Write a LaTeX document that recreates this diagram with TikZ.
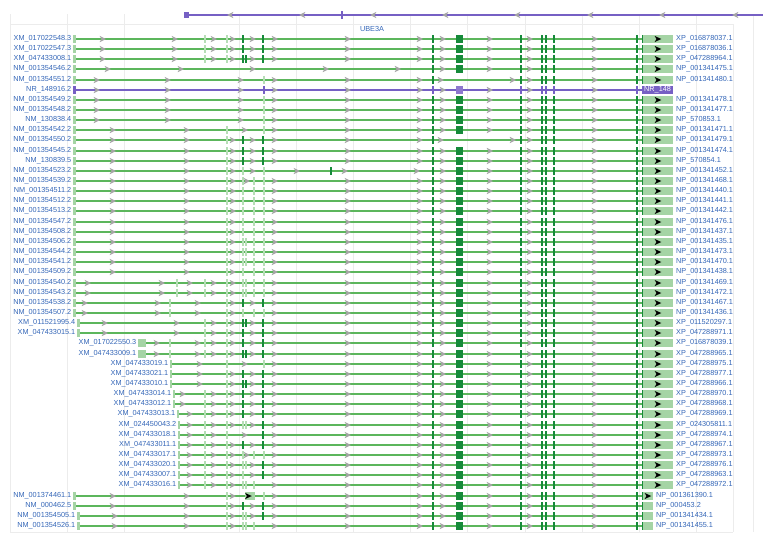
\documentclass[tikz,border=0pt]{standalone}
\usepackage{fontspec}
\setmainfont{Liberation Sans}
\definecolor{gl}{RGB}{92,182,92}
\definecolor{gd}{RGB}{22,138,58}
\definecolor{gb}{RGB}{165,212,165}
\definecolor{gt}{RGB}{182,222,182}
\definecolor{ag}{RGB}{165,165,165}
\definecolor{pu}{RGB}{118,96,196}
\definecolor{pul}{RGB}{142,120,206}
\definecolor{lb}{RGB}{52,102,184}
\definecolor{gridc}{RGB}{236,236,236}
\tikzset{
 intron/.style={draw=gl,line width=1.8pt},
 ltick/.style={draw=gt,line width=1.1pt},
 dtick/.style={draw=gd,line width=1.2pt},
 lab/.style={font=\fontsize{7.3}{8}\selectfont,text=lb,inner sep=0pt,anchor=east},
 rlab/.style={font=\fontsize{7.3}{8}\selectfont,text=lb,inner sep=0pt,anchor=west},
 gridline/.style={draw=gridc,line width=0.6pt},
}
\newcommand\arr[2]{\fill[ag] ({#1-3.4},{#2-3.2}) -- ({#1+3},{#2}) -- ({#1-3.4},{#2+3.2}) -- ({#1-1.6},{#2}) -- cycle;}
\newcommand\larr[2]{\fill[ag] ({#1+3.4},{#2-3.2}) -- ({#1-3},{#2}) -- ({#1+3.4},{#2+3.2}) -- ({#1+1.6},{#2}) -- cycle;}
\newcommand\chev[2]{\fill[black] ({#1-3.3},{#2-3}) -- ({#1+3.3},{#2}) -- ({#1-3.3},{#2+3}) -- ({#1-1.6},{#2}) -- cycle;}
\newcommand\sety[1]{\pgfmathsetmacro\yy{round(39+(#1-1)*10.146)}}
% left part of a transcript row
\newcommand\trow[7]{%
 \sety{#1}%
 \draw[intron] (#2,\yy) -- (642,\yy);
 \fill[gb] (#2,\yy-4) rectangle (#2+#3,\yy+4);
 \node[lab] (l#1) at (#2-1.5,\yy) {#4};
 \foreach \t in {#6}{\draw[ltick] (\t,\yy-3.6) -- (\t,\yy+3.6);}
 \foreach \t in {#7}{\draw[dtick] (\t,\yy-3.6) -- (\t,\yy+3.6);}
 \foreach \a in {#5}{\arr{\a}{\yy}}
}
% standard right part
\newcommand\rstd[3]{%
 \sety{#1}%
 \foreach \t in {433,521,542,546,554,637}{\draw[dtick] (\t,\yy-3.6) -- (\t,\yy+3.6);}
 \fill[gd] (456,\yy-4) rectangle (463,\yy+4);
 \foreach \a in {#2,443,490,530,595}{\arr{\a}{\yy}}
 \fill[gb] (642,\yy-4) rectangle (673,\yy+4);
 \draw[dtick] (642.6,\yy-4) -- (642.6,\yy+4);
 \chev{658}{\yy}
 \node[rlab] (r#1) at (676,\yy) {#3};
}
% right part without the large exon
\newcommand\rns[2]{%
 \sety{#1}%
 \foreach \t in {433,521,542,546,554,637}{\draw[dtick] (\t,\yy-3.6) -- (\t,\yy+3.6);}
 \foreach \a in {420,441,513,530,595}{\arr{\a}{\yy}}
 \fill[gb] (642,\yy-4) rectangle (673,\yy+4);
 \draw[dtick] (642.6,\yy-4) -- (642.6,\yy+4);
 \chev{658}{\yy}
 \node[rlab] (r#1) at (676,\yy) {#2};
}
% right part with a short end box
\newcommand\rbot[3]{%
 \sety{#1}%
 \foreach \t in {433,521,542,546,554,637}{\draw[dtick] (\t,\yy-3.6) -- (\t,\yy+3.6);}
 \fill[gd] (456,\yy-4) rectangle (463,\yy+4);
 \foreach \a in {420,443,490,530,595}{\arr{\a}{\yy}}
 \fill[gb] (642,\yy-4) rectangle (653,\yy+4);
 \draw[dtick] (642.6,\yy-4) -- (642.6,\yy+4);
 \ifnum#3=1 \chev{648}{\yy}\fi
 \node[rlab] (r#1) at (656,\yy) {#2};
}
\begin{document}
\begin{tikzpicture}[x=1pt,y=-1pt]
\useasboundingbox (0,0) rectangle (774,541);
\fill[white] (0,0) rectangle (774,541);
% faint grid
\foreach \x in {10,67.2,124.4,238.8,296,353.2,410.4,467.6,524.8,582,639.2,696.4,753.6}{\draw[gridline] (\x,14) -- (\x,532);}
\draw[gridline] (10,24) -- (733,24);
\draw[gridline] (10,532) -- (733,532);
\draw[gridline] (733,24) -- (733,532);
% gene
\draw[pu,line width=1.6pt] (185,15) -- (763,15);
\fill[pu] (184,12.3) rectangle (188.6,17.7);
\draw[pu,line width=1.2pt] (342,11) -- (342,19);
\foreach \a in {230,302,373,445,517,590,662,735}{\larr{\a}{15}}
\node[font=\fontsize{7.3}{8}\selectfont,text=lb,inner sep=0pt] (gene) at (372,29) {UBE3A};
% rows
\trow{1}{73}{3}{XM\_017022548.3}{103,175,214,233,253,275,348}{205,227}{243,263}
\rstd{1}{420}{XP\_016878037.1}
\trow{2}{73}{3}{XM\_017022547.3}{103,175,214,233,253,275,348}{205,227}{243,263}
\rstd{2}{420}{XP\_016878036.1}
\trow{3}{73}{3}{XM\_047433008.1}{103,175,214,233,253,275,348}{205,227}{243,246,263}
\rstd{3}{420}{XP\_047288964.1}
\trow{4}{73}{3}{NM\_001354546.2}{108,181,253,326}{637}{637}
\rstd{4}{398}{NP\_001341475.1}
\trow{5}{73}{3}{NM\_001354551.2}{97,168,241,275,348}{264}{637}
\rns{5}{NP\_001341480.1}
% purple non-coding row
\sety{6}
\draw[pu,line width=1.8pt] (73,\yy) -- (642,\yy);
\fill[pu] (73,\yy-4) rectangle (76,\yy+4);
\node[lab] (l6) at (71.5,\yy) {NR\_148916.2};
\foreach \t in {264,433,521,542,546,554,637}{\draw[pu,line width=1.2pt] (\t,\yy-3.6) -- (\t,\yy+3.6);}
\fill[pul] (456,\yy-4) rectangle (463,\yy+4);
\foreach \a in {97,168,241,275,348,420,443,490,530,595}{\arr{\a}{\yy}}
\fill[pu] (642,\yy-4) rectangle (673,\yy+4);
\node[font=\fontsize{7.3}{8}\selectfont,text=white,inner sep=0pt,anchor=west] (r6) at (644,\yy) {NR\_148};
%
\trow{7}{73}{3}{NM\_001354549.2}{97,168,241,275,348}{264}{637}
\rstd{7}{420}{NP\_001341478.1}
\trow{8}{73}{3}{NM\_001354548.2}{97,168,241,275,348}{264}{637}
\rstd{8}{420}{NP\_001341477.1}
\trow{9}{73}{3}{NM\_130838.4}{97,168,241,275,348}{264}{637}
\rstd{9}{420}{NP\_570853.1}
\trow{10}{73}{3}{NM\_001354542.2}{113,187,245,275,348}{227,264}{637}
\rstd{10}{420}{NP\_001341471.1}
\trow{11}{73}{3}{NM\_001354550.2}{113,187,233,253,275,348}{227}{243,263}
\rns{11}{NP\_001341479.1}
\trow{12}{73}{3}{NM\_001354545.2}{113,187,233,253,275,348}{227}{243,263}
\rstd{12}{420}{NP\_001341474.1}
\trow{13}{73}{3}{NM\_130839.5}{113,187,233,253,275,348}{227}{243,263}
\rstd{13}{420}{NP\_570854.1}
\trow{14}{73}{3}{NM\_001354523.2}{113,187,233,253,297,345}{227,243,264}{331}
\rstd{14}{417}{NP\_001341452.1}
\trow{15}{73}{3}{NM\_001354539.2}{113,187,233,247,275,348}{227,243,254,264}{637}
\rstd{15}{420}{NP\_001341468.1}
\trow{16}{73}{3}{NM\_001354511.2}{113,187,233,275,348}{227,243,254,264}{637}
\rstd{16}{420}{NP\_001341440.1}
\trow{17}{73}{3}{NM\_001354512.2}{113,187,233,275,348}{227,243,254,264}{637}
\rstd{17}{420}{NP\_001341441.1}
\trow{18}{73}{3}{NM\_001354513.2}{113,187,233,275,348}{227,243,254,264}{637}
\rstd{18}{420}{NP\_001341442.1}
\trow{19}{73}{3}{NM\_001354547.2}{113,187,233,275,348}{227,243,254,264}{637}
\rstd{19}{420}{NP\_001341476.1}
\trow{20}{73}{3}{NM\_001354508.2}{113,187,233,275,348}{227,243,254,264}{637}
\rstd{20}{420}{NP\_001341437.1}
\trow{21}{73}{3}{NM\_001354506.2}{113,187,233,275,348}{227,243,246,254,264}{637}
\rstd{21}{420}{NP\_001341435.1}
\trow{22}{73}{3}{NM\_001354544.2}{113,187,233,275,348}{227,243,246,254,264}{637}
\rstd{22}{420}{NP\_001341473.1}
\trow{23}{73}{3}{NM\_001354541.2}{113,187,233,275,348}{227,243,246,254,264}{637}
\rstd{23}{420}{NP\_001341470.1}
\trow{24}{73}{3}{NM\_001354509.2}{113,187,233,275,348}{227,243,254,264}{637}
\rstd{24}{420}{NP\_001341438.1}
\trow{25}{73}{3}{NM\_001354540.2}{88,162,190,214,233,275,348}{177,205,227,243,246,254,264}{637}
\rstd{25}{420}{NP\_001341469.1}
\trow{26}{73}{3}{NM\_001354543.2}{88,162,190,214,233,275,348}{177,205,227,243,246,254,264}{637}
\rstd{26}{420}{NP\_001341472.1}
\trow{27}{73}{3}{NM\_001354538.2}{85,158,198,233,253,275,348}{170,227}{243,263}
\rstd{27}{420}{NP\_001341467.1}
\trow{28}{73}{3}{NM\_001354507.2}{85,158,198,233,275,348}{170,227,243,254,264}{637}
\rstd{28}{420}{NP\_001341436.1}
\trow{29}{77}{3}{XM\_011521995.4}{105,177,214,233,253,275,348}{205,227}{243,246,263}
\rstd{29}{420}{XP\_011520297.1}
\trow{30}{77}{3}{XM\_047433015.1}{105,177,214,233,253,275,348}{205,227}{243,263}
\rstd{30}{420}{XP\_047288971.1}
\trow{31}{138}{8}{XM\_017022550.3}{157,198,214,233,253,275,348}{170,205,227}{243,263}
\rstd{31}{420}{XP\_016878039.1}
\trow{32}{138}{8}{XM\_047433009.1}{157,198,214,233,253,275,348}{170,205,227}{243,246,263}
\rstd{32}{420}{XP\_047288965.1}
\trow{33}{170}{1.5}{XM\_047433019.1}{200,245,275,348}{227,264}{637}
\rstd{33}{420}{XP\_047288975.1}
\trow{34}{170}{1.5}{XM\_047433021.1}{200,233,253,275,348}{227}{243,263}
\rstd{34}{420}{XP\_047288977.1}
\trow{35}{170}{1.5}{XM\_047433010.1}{200,233,253,275,348}{227}{243,246,263}
\rstd{35}{420}{XP\_047288966.1}
\trow{36}{173}{1.5}{XM\_047433014.1}{183,214,233,253,275,348}{205,227}{243,263}
\rstd{36}{420}{XP\_047288970.1}
\trow{37}{173}{1.5}{XM\_047433012.1}{183,214,233,253,275,348}{205,227}{243,263}
\rstd{37}{420}{XP\_047288968.1}
\trow{38}{177}{1.5}{XM\_047433013.1}{190,214,233,253,275,348}{205,227}{243,263}
\rstd{38}{420}{XP\_047288969.1}
\trow{39}{178}{1.5}{XM\_024450043.2}{190,214,233,253,275,348}{205,227,243,246}{263}
\rstd{39}{420}{XP\_024305811.1}
\trow{40}{178}{1.5}{XM\_047433018.1}{190,214,245,275,348}{205,227}{263}
\rstd{40}{420}{XP\_047288974.1}
\trow{41}{178}{1.5}{XM\_047433011.1}{190,214,233,253,275,348}{205,227}{243,263}
\rstd{41}{420}{XP\_047288967.1}
\trow{42}{178}{1.5}{XM\_047433017.1}{190,214,233,247,275,348}{205,227,243,254,264}{637}
\rstd{42}{420}{XP\_047288973.1}
\trow{43}{178}{1.5}{XM\_047433020.1}{190,214,233,253,275,348}{205,227,243,246}{263}
\rstd{43}{420}{XP\_047288976.1}
\trow{44}{178}{1.5}{XM\_047433007.1}{190,214,233,253,275,348}{205,227,243}{263}
\rstd{44}{420}{XP\_047288963.1}
\trow{45}{178}{1.5}{XM\_047433016.1}{190,214,233,275,348}{205,227,243,246,254}{637}
\rstd{45}{420}{XP\_047288972.1}
\trow{46}{73}{3}{NM\_001374461.1}{113,187,233,275,348}{227,264}{637}
\sety{46}
\fill[gb] (244.5,\yy-4) rectangle (254.5,\yy+4);
\chev{248.5}{\yy}
\rbot{46}{NP\_001361390.1}{1}
\trow{47}{73}{3}{NM\_000462.5}{113,187,233,253,275,348}{227}{243,263}
\rbot{47}{NP\_000453.2}{0}
\trow{48}{77}{3}{NM\_001354505.1}{115,187,233,253,275,348}{227,243,246}{263}
\rbot{48}{NP\_001341434.1}{0}
\trow{49}{77}{3}{NM\_001354526.1}{115,187,233,275,348}{227,243,246,254}{637}
\rbot{49}{NP\_001341455.1}{0}
\end{tikzpicture}
\end{document}
